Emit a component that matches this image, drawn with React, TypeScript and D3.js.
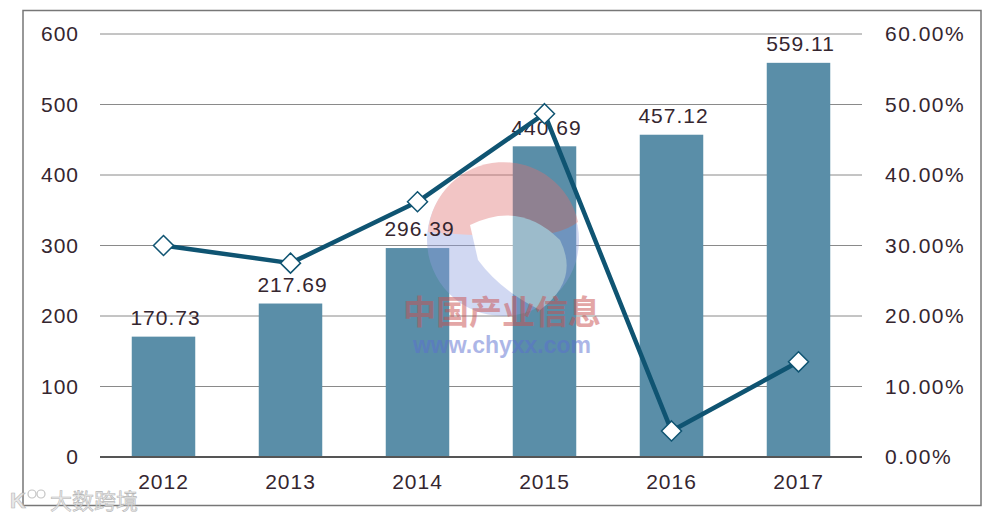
import React from "react";
import * as d3 from "d3";

const years = ["2012", "2013", "2014", "2015", "2016", "2017"];
const values = [170.73, 217.69, 296.39, 440.69, 457.12, 559.11];
const growth = [30.0, 27.5, 36.2, 48.7, 3.7, 13.5];
const leftTicks = [0, 100, 200, 300, 400, 500, 600];
const rightTicks = [0, 10, 20, 30, 40, 50, 60];

const W = 998;
const H = 520;
const x0 = 100;
const x1 = 862;
const yTop = 34;
const yBot = 457;

export default function App() {
  const x = d3.scaleBand<string>().domain(years).range([x0, x1]).paddingInner(0.5).paddingOuter(0.25);
  const y = d3.scaleLinear().domain([0, 600]).range([yBot, yTop]);
  const y2 = d3.scaleLinear().domain([0, 60]).range([yBot, yTop]);
  const cx = (d: string) => (x(d) as number) + x.bandwidth() / 2;
  const line = d3
    .line<number>()
    .x((_, i) => cx(years[i]))
    .y((d) => y2(d));
  const font = "'Liberation Sans', Arial, sans-serif";
  const textColor = "#35262f";
  const lineColor = "#0f5472";
  const barColor = "#5a8ea8";
  const r = 10;
  const fs = 21;
  const ls = 1;
  return (
    <div style={{ position: "absolute", left: 0, top: 0 }}>
      <svg width={W} height={H} style={{ display: "block", background: "#fff" }}>
        <rect x={23} y={10.5} width={958} height={495} fill="none" stroke="#777" strokeWidth={1.5} />
        {leftTicks.map((t) => (
          <g key={t}>
            {t !== 0 && <line x1={x0} x2={x1} y1={y(t)} y2={y(t)} stroke="#8a8a8a" strokeWidth={1} />}
            <text x={79} y={y(t)} dy="0.35em" textAnchor="end" fontFamily={font} fontSize={fs} letterSpacing={ls} fill={textColor}>
              {t}
            </text>
          </g>
        ))}
        {rightTicks.map((t) => (
          <text key={t} x={885} y={y2(t)} dy="0.35em" fontFamily={font} fontSize={fs} letterSpacing={1.5} fill={textColor}>
            {t.toFixed(2)}%
          </text>
        ))}
        {years.map((yr, i) => (
          <rect
            key={yr}
            x={x(yr)}
            y={y(values[i])}
            width={x.bandwidth()}
            height={yBot - y(values[i])}
            fill={barColor}
          />
        ))}
        {/* watermark logo */}
        <g opacity={0.4}>
          <circle cx={503} cy={240} r={76} fill="#8f9fe0" />
          <path d="M 428 232 A 76 76 0 0 1 578 222 Q 560 236 520 236 Q 470 236 428 232 Z" fill="#e07070" />
          <path d="M 470 225 Q 520 200 560 240 Q 580 280 540 310 Q 500 290 478 260 Z" fill="#fff" />
        </g>
        <line x1={x0} x2={x1} y1={yBot} y2={yBot} stroke="#555" strokeWidth={2} />
        {years.map((yr) => (
          <text key={yr} x={cx(yr)} y={482} dy="0.35em" textAnchor="middle" fontFamily={font} fontSize={fs} letterSpacing={ls} fill={textColor}>
            {yr}
          </text>
        ))}
        {years.map((yr, i) => (
          <text
            key={yr}
            x={cx(yr) + 2}
            y={y(values[i]) - 19}
            dy="0.35em"
            textAnchor="middle"
            fontFamily={font}
            fontSize={fs}
            letterSpacing={ls}
            fill={textColor}
          >
            {values[i].toFixed(2)}
          </text>
        ))}
        <path d={line(growth) || ""} fill="none" stroke={lineColor} strokeWidth={4.5} strokeLinejoin="round" />
        {growth.map((g, i) => {
          const px = cx(years[i]);
          const py = y2(g);
          return (
            <path
              key={i}
              d={`M ${px} ${py - r} L ${px + r} ${py} L ${px} ${py + r} L ${px - r} ${py} Z`}
              fill="#fff"
              stroke={lineColor}
              strokeWidth={1.5}
            />
          );
        })}
        <g opacity={0.5} fontWeight={700}>
          <text x={502} y={312} dy="0.35em" textAnchor="middle" fontSize={33} fill="#c85050" fontFamily="'Noto Sans CJK SC', sans-serif">
            中国产业信息
          </text>
          <text x={502} y={345} dy="0.35em" textAnchor="middle" fontSize={23} fill="#5b6fd0" fontFamily={font}>
            www.chyxx.com
          </text>
        </g>
        <g opacity={0.85}>
          <text x={10} y={500} dy="0.35em" fontFamily={font} fontSize={22} fontWeight={700} fill="#e4e4e4" stroke="#aaa" strokeWidth={0.6}>
            K
          </text>
          <circle cx={32} cy={494} r={4} fill="none" stroke="#bbb" strokeWidth={1.2} />
          <circle cx={41} cy={494} r={4} fill="none" stroke="#bbb" strokeWidth={1.2} />
          <text x={50} y={501} dy="0.35em" fontFamily="'Noto Sans CJK SC', sans-serif" fontSize={22} fill="#e8e8e8" stroke="#aaa" strokeWidth={0.6}>
            大数跨境
          </text>
        </g>
      </svg>
    </div>
  );
}
